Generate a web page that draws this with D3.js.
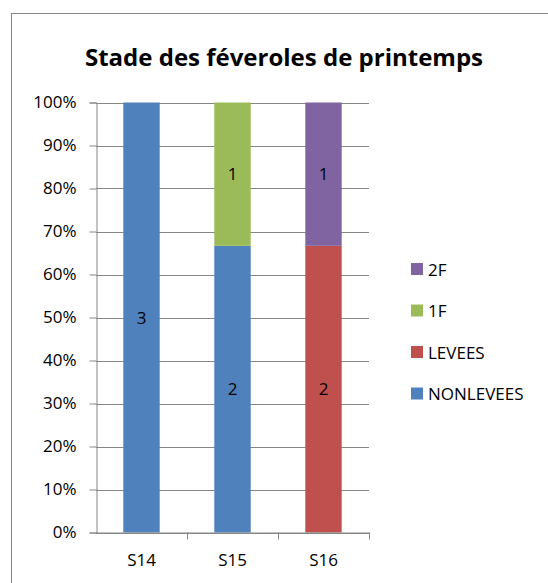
<!DOCTYPE html>
<html>
<head>
<meta charset="utf-8">
<script src="https://cdn.jsdelivr.net/npm/d3@7"></script>
<style>
  body { margin: 0; background: #fff; }
  text { font-family: "Open Sans", "Liberation Sans", sans-serif; fill: #000; }
</style>
</head>
<body>
<div id="chart"></div>
<script>
// Data (counts per stage and week)
const categories = ['S14', 'S15', 'S16'];
const seriesNames = ['NONLEVEES', 'LEVEES', '1F', '2F'];
const nonLevees = [3, 2, 0];
const levees = [0, 0, 2];
const oneF = [0, 1, 0];
const twoF = [0, 0, 1];
const yTicks = [0, 0.1, 0.2, 0.3, 0.4, 0.5, 0.6, 0.7, 0.8, 0.9, 1];

const colors = ['#4F81BD', '#C0504D', '#9BBB59', '#8064A2'];

let width = 548;
let height = 583;

const svg = d3.select('#chart')
  .append('svg')
  .attr('width', width)
  .attr('height', height)

// outer chart frame
svg.append('rect')
  .attr('x', 11.5).attr('y', 13.5)
  .attr('width', 600).attr('height', 600)
  .attr('fill', 'none')
  .attr('stroke', '#868686')
  .attr('stroke-width', 1)

svg.append('text')
  .attr('x', 284).attr('y', 66)
  .attr('text-anchor', 'middle')
  .style('font-size', '24px')
  .style('font-weight', 'bold')
  .text('Stade des féveroles de printemps')

// build table for the stack
const table = categories.map((c, i) => ({
  cat: c,
  'NONLEVEES': nonLevees[i],
  'LEVEES': levees[i],
  '1F': oneF[i],
  '2F': twoF[i]
}));

const stack = d3.stack().keys(seriesNames).offset(d3.stackOffsetExpand);
const layers = stack(table);

const x = d3.scaleBand()
  .domain(categories)
  .range([96, 369])
  .paddingInner(0.6)
  .paddingOuter(0.3)

const xTicks = d3.scaleBand().domain(categories).range([96, 369]);

const y = d3.scaleLinear()
  .domain([0, 1])
  .range([532.5, 102.5])

// gridlines
svg.append('g')
  .selectAll('line')
  .data(yTicks)
  .enter()
  .append('line')
  .attr('x1', 96).attr('x2', 369)
  .attr('y1', d => Math.round(y(d)) + 0.5)
  .attr('y2', d => Math.round(y(d)) + 0.5)
  .attr('stroke', '#868686')

// bars
svg.append('g')
  .selectAll('g')
  .data(layers)
  .enter()
  .append('g')
  .attr('fill', (d, i) => colors[i])
  .selectAll('rect')
  .data(d => d)
  .enter()
  .append('rect')
  .attr('x', d => x(d.data.cat))
  .attr('width', x.bandwidth())
  .attr('y', d => y(d[1]))
  .attr('height', d => y(d[0]) - y(d[1]))

// data labels
layers.forEach((layer, i) => {
  svg.append('g')
    .selectAll('text')
    .data(layer.filter(d => d.data[layer.key] > 0))
    .enter()
    .append('text')
    .attr('x', d => x(d.data.cat) + x.bandwidth() / 2)
    .attr('y', d => y((d[0] + d[1]) / 2) + 6)
    .attr('text-anchor', 'middle')
    .style('font-size', '17px')
    .text(d => d.data[layer.key])
})

// y axis
const yAxis = d3.axisLeft(y).tickValues(yTicks).tickFormat(d3.format('.0%')).tickSize(7).tickPadding(13);
const gy = svg.append('g')
  .attr('transform', 'translate(96.5,0)')
  .call(yAxis)
gy.selectAll('path, line').attr('stroke', '#868686')
gy.selectAll('text').style('font-size', '17px').attr('fill', '#000')

// x axis
const xAxis = d3.axisBottom(xTicks).tickSize(0).tickPadding(21);
const gx = svg.append('g')
  .attr('transform', 'translate(0,532.5)')
  .call(xAxis)
gx.select('path').attr('stroke', '#868686')
gx.selectAll('text').style('font-size', '17px').attr('fill', '#000')
// category separators below the axis
gx.selectAll('.sep')
  .data(categories)
  .enter()
  .append('line')
  .attr('class', 'sep')
  .attr('x1', d => Math.round(xTicks(d) + xTicks.bandwidth()) + 0.5)
  .attr('x2', d => Math.round(xTicks(d) + xTicks.bandwidth()) + 0.5)
  .attr('y1', 0).attr('y2', 7)
  .attr('stroke', '#868686')

// legend, top entry is last series
const legendOrder = seriesNames.slice().reverse();
const legend = svg.append('g')
  .selectAll('g')
  .data(legendOrder)
  .enter()
  .append('g')
  .attr('transform', (d, i) => 'translate(411,' + (263 + i * 41.5) + ')')

legend.append('rect')
  .attr('width', 12).attr('height', 12)
  .attr('fill', d => colors[seriesNames.indexOf(d)])

legend.append('text')
  .attr('x', 17).attr('y', 12.5)
  .style('font-size', '17px')
  .text(d => d)
</script>
</body>
</html>
